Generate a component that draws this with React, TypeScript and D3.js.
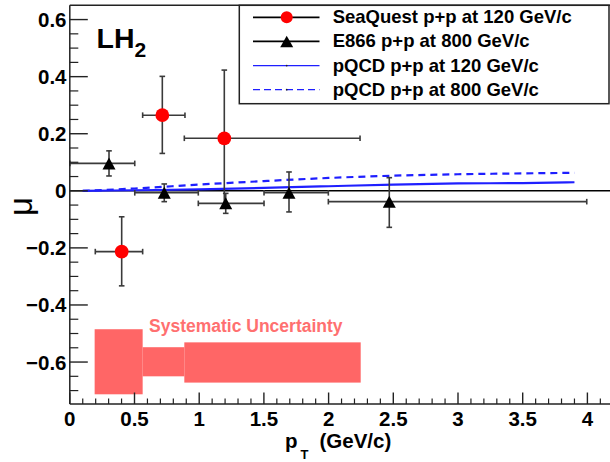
import React from 'react';
import * as d3 from 'd3';

const W = 610;
const H = 462;

// SeaQuest p+p at 120 GeV/c
const sqX = [0.401, 0.715, 1.194];
const sqY = [-0.213, 0.265, 0.184];
const sqYLo = [-0.333, 0.131, -0.055];
const sqYHi = [-0.091, 0.401, 0.423];
const sqXLo = [0.197, 0.563, 0.885];
const sqXHi = [0.563, 0.89, 2.243];

// E866 p+p at 800 GeV/c
const e8X = [0.303, 0.73, 1.205, 1.694, 2.469];
const e8Y = [0.096, -0.007, -0.044, -0.007, -0.038];
const e8YLo = [0.052, -0.038, -0.079, -0.074, -0.128];
const e8YHi = [0.14, 0.024, -0.009, 0.066, 0.046];
const e8XLo = [0.0, 0.502, 0.993, 1.501, 1.998];
const e8XHi = [0.502, 0.993, 1.501, 1.998, 3.995];

// pQCD curves
const pqX = [0.1, 0.5, 1.0, 1.5, 2.0, 2.5, 3.0, 3.5, 3.9];
const pq120 = [0, 0.002, 0.005, 0.01, 0.016, 0.022, 0.026, 0.027, 0.03];
const pq800 = [0, 0.008, 0.022, 0.034, 0.045, 0.053, 0.058, 0.061, 0.063];

// Systematic uncertainty boxes
const sysXLo = [0.192, 0.563, 0.885];
const sysXHi = [0.563, 0.885, 2.248];
const sysCenter = [-0.599, -0.599, -0.6015];
const sysHalf = [0.114, 0.051, 0.0705];

const xMajor = [0, 0.5, 1, 1.5, 2, 2.5, 3, 3.5, 4];
const xMajorLabels = ['0', '0.5', '1', '1.5', '2', '2.5', '3', '3.5', '4'];
const yMajor = [-0.6, -0.4, -0.2, 0, 0.2, 0.4, 0.6];
const yMajorLabels = ['\u22120.6', '\u22120.4', '\u22120.2', '0', '0.2', '0.4', '0.6'];

const legendLabels = [
  'SeaQuest p+p at 120 GeV/c',
  'E866 p+p at 800 GeV/c',
  'pQCD p+p at 120 GeV/c',
  'pQCD p+p at 800 GeV/c',
];

const FONT = '"Liberation Sans", Arial, Helvetica, sans-serif';
const BLUE = '#1f1fff';
const ERR = '#3a3a3a';
const SYS = '#ff6666';

export default function App() {
  const x0 = 69.8;
  const xUnit = 129.4;
  const x = d3.scaleLinear().domain([0, 4.2]).range([x0, x0 + 4.2 * xUnit]);
  const y = d3.scaleLinear().domain([-0.747, 0.65]).range([404, 5.3]);
  const plotL = x(0);
  const plotR = x(4.2);
  const plotT = y(0.65);
  const plotB = y(-0.747);

  const xMinor = d3.range(0, 42).map((i) => i * 0.1).filter((v) => Math.abs(v * 2 - Math.round(v * 2)) > 1e-6);
  const yMinor = d3.range(-14, 14).map((i) => i * 0.05).filter((v) => Math.abs(v * 5 - Math.round(v * 5)) > 1e-6 && v > -0.747 && v < 0.65);

  const line = d3
    .line<number>()
    .x((d, i) => x(pqX[i]))
    .y((d) => y(d))
    .curve(d3.curveMonotoneX);

  const triangle = (cx: number, cy: number, w: number, h: number) =>
    `M${cx - w / 2},${cy + h / 2}L${cx + w / 2},${cy + h / 2}L${cx},${cy - h / 2}Z`;

  const cap = 2.8;

  const errorBars = (
    xs: number[],
    ys: number[],
    xl: number[],
    xh: number[],
    yl: number[],
    yh: number[],
    key: string
  ) =>
    xs.map((xv, i) => (
      <g key={key + i} stroke={ERR} strokeWidth={1.6} fill="none">
        <line x1={x(xl[i])} x2={x(xh[i])} y1={y(ys[i])} y2={y(ys[i])} />
        <line x1={x(xl[i])} x2={x(xl[i])} y1={y(ys[i]) - cap} y2={y(ys[i]) + cap} />
        <line x1={x(xh[i])} x2={x(xh[i])} y1={y(ys[i]) - cap} y2={y(ys[i]) + cap} />
        <line x1={x(xv)} x2={x(xv)} y1={y(yl[i])} y2={y(yh[i])} />
        <line x1={x(xv) - cap} x2={x(xv) + cap} y1={y(yl[i])} y2={y(yl[i])} />
        <line x1={x(xv) - cap} x2={x(xv) + cap} y1={y(yh[i])} y2={y(yh[i])} />
      </g>
    ));

  const legX0 = 239.3;
  const legX1 = 609;
  const legT = plotT;
  const legB = 103.7;
  const legBase = [23.3, 47.4, 71.6, 95.7];
  const sampleL = 253;
  const sampleR = 319.5;
  const sampleC = 286.7;

  return (
    <svg
      width={W}
      height={H}
      style={{ position: 'absolute', left: 0, top: 0, background: '#fff' }}
      fontFamily={FONT}
    >
      <rect x={0} y={0} width={W} height={H} fill="#fff" />

      {/* systematic uncertainty */}
      {sysXLo.map((xl, i) => (
        <rect
          key={'sys' + i}
          x={x(xl)}
          width={x(sysXHi[i]) - x(xl)}
          y={y(sysCenter[i] + sysHalf[i])}
          height={y(sysCenter[i] - sysHalf[i]) - y(sysCenter[i] + sysHalf[i])}
          fill={SYS}
        />
      ))}
      <text x={149} y={332} fontSize={17.5} fontWeight="bold" fill="#ff7070">
        Systematic Uncertainty
      </text>

      {/* zero line */}
      <line x1={plotL} x2={plotR} y1={y(0)} y2={y(0)} stroke="#000" strokeWidth={1.4} />

      {/* pQCD curves */}
      <path d={line(pq120) || ''} fill="none" stroke={BLUE} strokeWidth={2.2} />
      <path d={line(pq800) || ''} fill="none" stroke={BLUE} strokeWidth={2.2} strokeDasharray="7,5" />

      {/* error bars */}
      {errorBars(e8X, e8Y, e8XLo, e8XHi, e8YLo, e8YHi, 'e8')}
      {errorBars(sqX, sqY, sqXLo, sqXHi, sqYLo, sqYHi, 'sq')}

      {/* markers */}
      {e8X.map((xv, i) => (
        <path key={'tri' + i} d={triangle(x(xv), y(e8Y[i]), 13, 12)} fill="#000" />
      ))}
      {sqX.map((xv, i) => (
        <circle key={'c' + i} cx={x(xv)} cy={y(sqY[i])} r={6.9} fill="#ff0000" />
      ))}

      {/* frame */}
      <line x1={plotL} x2={plotR} y1={plotT} y2={plotT} stroke="#222" strokeWidth={1.5} />
      <line x1={plotL} x2={plotL} y1={plotT} y2={plotB} stroke="#222" strokeWidth={1.5} />
      <line x1={plotL} x2={plotR} y1={plotB} y2={plotB} stroke="#222" strokeWidth={1.5} />

      {/* y ticks */}
      {yMajor.map((v, i) => (
        <g key={'ym' + i}>
          <line x1={plotL} x2={plotL + 18} y1={y(v)} y2={y(v)} stroke="#222" strokeWidth={1.4} />
          <text
            x={66.5}
            y={y(v) + 7.5}
            textAnchor="end"
            fontSize={20.5}
            fontWeight="bold"
            fill="#000"
          >
            {yMajorLabels[i]}
          </text>
        </g>
      ))}
      {yMinor.map((v, i) => (
        <line key={'yn' + i} x1={plotL} x2={plotL + 8.5} y1={y(v)} y2={y(v)} stroke="#222" strokeWidth={1.2} />
      ))}

      {/* x ticks */}
      {xMajor.map((v, i) => (
        <g key={'xm' + i}>
          <line x1={x(v)} x2={x(v)} y1={plotB} y2={plotB - 11.5} stroke="#222" strokeWidth={1.4} />
          <text x={x(v)} y={426} textAnchor="middle" fontSize={20.5} fontWeight="bold" fill="#000">
            {xMajorLabels[i]}
          </text>
        </g>
      ))}
      {xMinor.map((v, i) => (
        <line key={'xn' + i} x1={x(v)} x2={x(v)} y1={plotB} y2={plotB - 5.5} stroke="#222" strokeWidth={1.2} />
      ))}

      {/* axis titles */}
      <text x={285} y={448} fontSize={20.5} fontWeight="bold" fill="#000">
        p
      </text>
      <text x={300.5} y={459} fontSize={13} fontWeight="bold" fill="#000">
        T
      </text>
      <text x={319.5} y={448} fontSize={20.5} fontWeight="bold" fill="#000">
        (GeV/c)
      </text>
      <text
        transform={`translate(31.5,206.5) rotate(-90)`}
        textAnchor="middle"
        fontSize={33}
        fill="#000"
      >
        μ
      </text>

      {/* LH2 */}
      <text x={96.5} y={48.3} fontSize={28.5} fontWeight="bold" fill="#000">
        LH
      </text>
      <text x={134.5} y={57} fontSize={21} fontWeight="bold" fill="#000">
        2
      </text>

      {/* legend */}
      <rect
        x={legX0}
        y={legT}
        width={legX1 - legX0}
        height={legB - legT}
        fill="#fff"
        stroke="#222"
        strokeWidth={1.5}
      />
      {legendLabels.map((lab, i) => {
        const cy = legBase[i] - 6;
        return (
          <g key={'leg' + i}>
            {i < 2 && <line x1={sampleL} x2={sampleR} y1={cy} y2={cy} stroke="#000" strokeWidth={1.8} />}
            {i === 2 && <line x1={sampleL} x2={sampleR} y1={cy} y2={cy} stroke={BLUE} strokeWidth={1.3} />}
            {i === 3 && (
              <line
                x1={sampleL}
                x2={sampleR}
                y1={cy}
                y2={cy}
                stroke={BLUE}
                strokeWidth={1.3}
                strokeDasharray="7,4"
              />
            )}
            {i === 0 && <circle cx={sampleC} cy={cy} r={6} fill="#ff0000" />}
            {i === 1 && <path d={triangle(sampleC, cy, 13, 11.5)} fill="#000" />}
            {i >= 2 && <circle cx={sampleC} cy={cy} r={0.9} fill="#222" />}
            <text x={332.7} y={legBase[i]} fontSize={18.5} fontWeight="bold" fill="#000">
              {lab}
            </text>
          </g>
        );
      })}
    </svg>
  );
}
